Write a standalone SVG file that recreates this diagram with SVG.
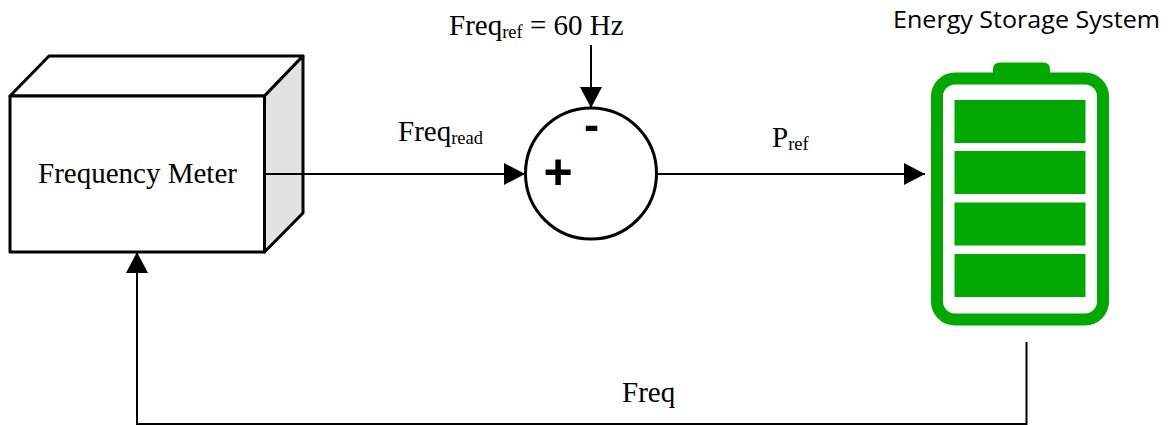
<svg xmlns="http://www.w3.org/2000/svg" width="1171" height="425" viewBox="0 0 1171 425">
<style>
.t{font-family:"Liberation Serif","Times New Roman",serif;font-size:29px;fill:#000}
.s{font-size:18.500px}
.box{stroke:#000;stroke-width:3;stroke-linejoin:round}
.c{fill:none;stroke:#000;stroke-width:2}
.bar{fill:#00a800}
</style>
<defs>
<marker id="a" markerUnits="userSpaceOnUse" markerWidth="22" markerHeight="22" refX="21" refY="11" orient="auto"><path d="M0 0L21 11L0 22Z" fill="#000"/></marker>
</defs>
<g id="frequency-meter">
<path class="box" fill="#fff" d="M10 96L49 56H303L264.500 96Z"/>
<path class="box" fill="#e2e2e2" d="M264.500 96L303 56V213L264.500 252Z"/>
<rect class="box" fill="#fff" x="10" y="96" width="254.500" height="156"/>
<text class="t" x="137.500" y="183" text-anchor="middle">Frequency Meter</text>
</g>
<g id="connectors">
<path class="c" d="M265 174H525" marker-end="url(#a)"/>
<path class="c" d="M591 45V108" marker-end="url(#a)"/>
<path class="c" d="M657 174H925" marker-end="url(#a)"/>
<path class="c" d="M1026.500 342V424H137V252" marker-end="url(#a)"/>
</g>
<g id="summing-junction">
<circle cx="591" cy="173.500" r="65.500" fill="#fff" stroke="#000" stroke-width="3"/>
<text x="591.500" y="140" text-anchor="middle" font-family="Liberation Sans,Arial,sans-serif" font-weight="bold" font-size="45">-</text>
<text x="558" y="189" text-anchor="middle" font-family="Liberation Sans,Arial,sans-serif" font-weight="bold" font-size="50">+</text>
</g>
<g id="energy-storage-system">
<text x="1026.500" y="28" text-anchor="middle" font-family="Open Sans,Noto Sans,sans-serif" font-size="24.500" textLength="267" lengthAdjust="spacingAndGlyphs">Energy Storage System</text>
<path class="bar" d="M993 73V69Q993 62.500 1000 62.500H1043Q1050 62.500 1050 69V73Z"/>
<rect x="937" y="78.500" width="166" height="241" rx="18" fill="#fff" stroke="#00a800" stroke-width="12"/>
<rect class="bar" x="954.500" y="100" width="131" height="43"/>
<rect class="bar" x="954.500" y="151" width="131" height="43"/>
<rect class="bar" x="954.500" y="202.500" width="131" height="43"/>
<rect class="bar" x="954.500" y="254" width="131" height="43"/>
</g>
<g id="labels">
<text class="t" x="449" y="35">Freq<tspan class="s" dy="3">ref</tspan><tspan dy="-3"> = 60 Hz</tspan></text>
<text class="t" x="398" y="141">Freq<tspan class="s" dy="3">read</tspan></text>
<text class="t" x="772" y="147">P<tspan class="s" dy="3">ref</tspan></text>
<text class="t" x="622" y="402">Freq</text>
</g>
</svg>
